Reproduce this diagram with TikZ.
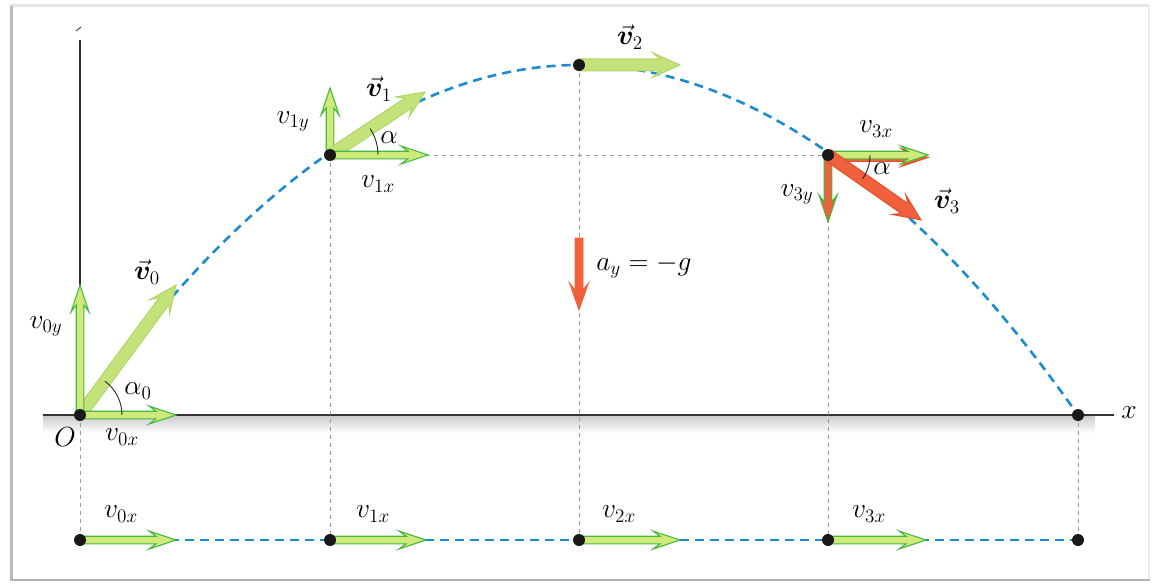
\documentclass[tikz,border=0pt]{standalone}
\usepackage{amsmath,bm}
\usetikzlibrary{calc}
\definecolor{traj}{HTML}{1E8BD0}
\definecolor{agreen}{HTML}{45B83F}
\definecolor{alight}{HTML}{CFE97A}
\definecolor{vlight}{HTML}{C4E27A}
\definecolor{vedge}{HTML}{AED767}
\definecolor{ared}{HTML}{F0603C}
\definecolor{aredd}{HTML}{E4502E}
\definecolor{gline}{HTML}{9A9A9A}
\newcommand\fatarrow[5]{%
  \coordinate (fan) at ($(#3)!20pt!(#2)$);
  \coordinate (fam) at ($(#3)!27pt!(#2)$);
  \filldraw[#1] ($(#2)!#4!90:(#3)$) -- ($(fan)!#4!-90:(#2)$) -- ($(fam)!#5!-90:(#2)$) -- (#3)
     -- ($(fam)!#5!90:(#2)$) -- ($(fan)!#4!90:(#2)$) -- ($(#2)!#4!-90:(#3)$) -- cycle;}
\tikzset{
  trajline/.style={traj, line width=2.6pt, dash pattern=on 9pt off 6pt},
  guide/.style={gline, line width=0.9pt, dash pattern=on 4pt off 4pt},
  axisline/.style={black!80, line width=1.4pt},
  comp/.style={fill=alight, draw=agreen, line width=1.1pt, line join=miter},
  vec/.style={fill=vlight, draw=vedge, line width=1pt, line join=miter},
  redvec/.style={fill=ared, draw=aredd, line width=1pt, line join=miter},
  dot/.style={circle, fill=black!90, inner sep=0pt, minimum size=12pt},
  lab/.style={inner sep=0pt, font=\fontsize{20.74}{24}\selectfont, scale=1.33},
  anglearc/.style={black!85, line width=0.9pt}
}
\begin{document}
\begin{tikzpicture}[x=1pt, y=-1pt]
\useasboundingbox (0,0) rectangle (1155,583);
\fill[white] (0,0) rectangle (1155,583);
% frame
\draw[black!10, line width=3pt] (10,6) -- (1149,6);
\draw[black!8, line width=2pt] (1149,6) -- (1149,580);
\draw[black!28, line width=3pt] (11,6) -- (11,580);
\draw[black!30, line width=2.5pt] (10,580) -- (1150,580);
% points
\coordinate (p0) at (80,415);
\coordinate (p1) at (330,155);
\coordinate (p2) at (579,65);
\coordinate (p3) at (828,155);
\coordinate (p4) at (1078,415);
\coordinate (b0) at (80,540);
\coordinate (b1) at (330,540);
\coordinate (b2) at (579,540);
\coordinate (b3) at (828,540);
\coordinate (b4) at (1078,540);
% shading under the axis
\shade[top color=black!20, bottom color=white] (43,416) rectangle (1095,433);
% axes
\coordinate (xa0) at (43,415);
\coordinate (xa1) at (1114,415);
\coordinate (ya1) at (80,40);
\draw[axisline] (xa0) -- (xa1);
\draw[axisline] (p0) -- (ya1);
\coordinate (yt0) at (76,31);
\coordinate (yt1) at (81,27);
\draw[black!70, line width=1pt] (yt0) -- (yt1);
\node[lab] (xl) at (1129,413) {$x$};
% guide lines
\draw[guide] (p0) -- (b0);
\draw[guide] (p1) -- (b1);
\draw[guide] (p2) -- (b2);
\draw[guide] (p3) -- (b3);
\draw[guide] (p4) -- (b4);
\draw[guide] (p1) -- (p3);
% trajectory
\draw[trajline] (p0) parabola bend (p2) (p4);
\draw[trajline] (b0) -- (b4);
% velocity arrows at the start
\coordinate (t0x) at (176,415);
\coordinate (t0y) at (80,285);
\coordinate (t0) at (176,285);
\fatarrow{vec}{p0}{t0}{6pt}{12pt}
\fatarrow{comp}{p0}{t0y}{3.8pt}{9pt}
\fatarrow{comp}{p0}{t0x}{3.8pt}{9pt}
% at point 1
\coordinate (t1x) at (428,155);
\coordinate (t1y) at (330,88);
\coordinate (t1) at (425,92);
\fatarrow{comp}{p1}{t1y}{3.8pt}{9pt}
\fatarrow{vec}{p1}{t1}{6pt}{12pt}
\fatarrow{comp}{p1}{t1x}{3.8pt}{9pt}
% at the top
\coordinate (t2) at (680,65);
\fatarrow{vec}{p2}{t2}{6pt}{12pt}
% at point 3
\coordinate (t3x) at (928,155);
\coordinate (t3y) at (828,222);
\coordinate (t3) at (921,220);
\coordinate (t3xs) at (928,157.5);
\coordinate (p3s) at (828,157.5);
\fatarrow{redvec}{p3s}{t3xs}{3.8pt}{9pt}
\fatarrow{comp}{p3}{t3x}{3.8pt}{9pt}
\fatarrow{fill=ared, draw=agreen, line width=1.1pt, line join=miter}{p3}{t3y}{3.8pt}{9pt}
\fatarrow{redvec}{p3}{t3}{6pt}{12pt}
% acceleration
\coordinate (a0) at (579,238);
\coordinate (a1) at (579,310);
\fatarrow{fill=ared, draw=ared, line width=0.8pt, line join=miter}{a0}{a1}{4pt}{9.5pt}
% bottom row arrows
\coordinate (c0) at (176,540);
\coordinate (c1) at (426,540);
\coordinate (c2) at (680,540);
\coordinate (c3) at (926,540);
\fatarrow{comp}{b0}{c0}{3.8pt}{9pt}
\fatarrow{comp}{b1}{c1}{3.8pt}{9pt}
\fatarrow{comp}{b2}{c2}{3.8pt}{9pt}
\fatarrow{comp}{b3}{c3}{3.8pt}{9pt}
% angle arcs
\draw[anglearc] ($(p0)+(42,0)$) arc[start angle=0, end angle=53.6, radius=42pt];
\draw[anglearc] ($(p1)+(48,0)$) arc[start angle=0, end angle=33.5, radius=48pt];
\draw[anglearc] ($(p3)+(42,0)$) arc[start angle=0, end angle=-34.7, radius=42pt];
% dots
\node[dot] (d0) at (p0) {};
\node[dot] (d1) at (p1) {};
\node[dot] (d2) at (p2) {};
\node[dot] (d3) at (p3) {};
\node[dot] (d4) at (p4) {};
\node[dot] (e0) at (b0) {};
\node[dot] (e1) at (b1) {};
\node[dot] (e2) at (b2) {};
\node[dot] (e3) at (b3) {};
\node[dot] (e4) at (b4) {};
% labels
\node[lab] (lv0y) at (46,326) {$v_{0y}$};
\node[lab] (lv0) at (147,272) {$\vec{\bm v}_0$};
\node[lab] (la0) at (138,391) {$\alpha_0$};
\node[lab] (lO) at (65,437) {$O$};
\node[lab] (lv0x) at (122,437) {$v_{0x}$};
\node[lab] (lv1y) at (293,121) {$v_{1y}$};
\node[lab] (lv1) at (379,89) {$\vec{\bm v}_1$};
\node[lab] (la1) at (389,138) {$\alpha$};
\node[lab] (lv1x) at (378,184) {$v_{1x}$};
\node[lab] (lv2) at (630,37) {$\vec{\bm v}_2$};
\node[lab] (lv3x) at (876,129) {$v_{3x}$};
\node[lab] (lv3y) at (797,194) {$v_{3y}$};
\node[lab] (la3) at (882,169) {$\alpha$};
\node[lab] (lv3) at (947,201) {$\vec{\bm v}_3$};
\node[lab, anchor=west] (lay) at (596,266) {$a_y = -g$};
\node[lab] (lb0) at (121,514) {$v_{0x}$};
\node[lab] (lb1) at (373,514) {$v_{1x}$};
\node[lab] (lb2) at (619,514) {$v_{2x}$};
\node[lab] (lb3) at (869,514) {$v_{3x}$};
\end{tikzpicture}
\end{document}
